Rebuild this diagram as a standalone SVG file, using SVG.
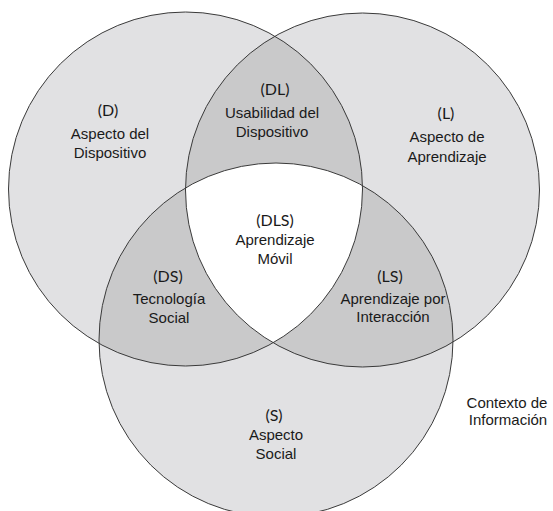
<svg xmlns="http://www.w3.org/2000/svg" width="553" height="511" viewBox="0 0 553 511">
  <style>
    .area { fill: #e1e1e3; }
    .pair { fill: #c9c9ca; }
    .core { fill: #ffffff; }
    .edge { fill: none; stroke: #3a3a3a; stroke-width: 1; }
    text { font-family: "Liberation Sans", Arial, sans-serif; font-size: 15px; fill: #1a1a1a; text-anchor: middle; }
    .code { font-family: Lato, "Liberation Sans", sans-serif; font-size: 16px; }
  </style>
  <defs>
    <clipPath id="clipD"><circle cx="185.5" cy="189" r="177"/></clipPath>
    <clipPath id="clipL"><circle cx="362.5" cy="190" r="177"/></clipPath>
    <clipPath id="clipS"><circle cx="276" cy="340" r="177"/></clipPath>
  </defs>
  <rect width="553" height="511" fill="#ffffff"/>

  <g id="fills">
    <circle class="area" cx="185.5" cy="189" r="177"/>
    <circle class="area" cx="362.5" cy="190" r="177"/>
    <circle class="area" cx="276" cy="340" r="177"/>
    <g clip-path="url(#clipD)">
      <circle class="pair" cx="362.5" cy="190" r="177"/>
      <circle class="pair" cx="276" cy="340" r="177"/>
    </g>
    <g clip-path="url(#clipL)">
      <circle class="pair" cx="276" cy="340" r="177"/>
    </g>
    <g clip-path="url(#clipD)">
      <g clip-path="url(#clipL)">
        <circle class="core" cx="276" cy="340" r="177"/>
      </g>
    </g>
  </g>

  <g id="D">
    <circle class="edge" cx="185.5" cy="189" r="177"/>
    <text class="code" x="108" y="116">(D)</text>
    <text x="110" y="139">Aspecto del</text>
    <text x="110" y="158">Dispositivo</text>
  </g>
  <g id="L">
    <circle class="edge" cx="362.5" cy="190" r="177"/>
    <text class="code" x="446" y="119">(L)</text>
    <text x="447" y="142">Aspecto de</text>
    <text x="447" y="162">Aprendizaje</text>
  </g>
  <g id="S">
    <circle class="edge" cx="276" cy="340" r="177"/>
    <text class="code" x="274" y="421">(S)</text>
    <text x="276" y="440">Aspecto</text>
    <text x="276" y="459">Social</text>
  </g>
  <g id="DL">
    <text class="code" x="275" y="95">(DL)</text>
    <text x="272" y="118">Usabilidad del</text>
    <text x="272" y="137">Dispositivo</text>
  </g>
  <g id="DS">
    <text class="code" x="168" y="282">(DS)</text>
    <text x="169" y="304">Tecnología</text>
    <text x="169" y="323">Social</text>
  </g>
  <g id="LS">
    <text class="code" x="390" y="282">(LS)</text>
    <text x="393" y="304">Aprendizaje por</text>
    <text x="393" y="322">Interacción</text>
  </g>
  <g id="DLS">
    <text class="code" x="275" y="226">(DLS)</text>
    <text x="275" y="245">Aprendizaje</text>
    <text x="275" y="264">Móvil</text>
  </g>
  <g id="context">
    <text x="507" y="408">Contexto de</text>
    <text x="508" y="425">Información</text>
  </g>
  <g id="connectors"></g>
</svg>
